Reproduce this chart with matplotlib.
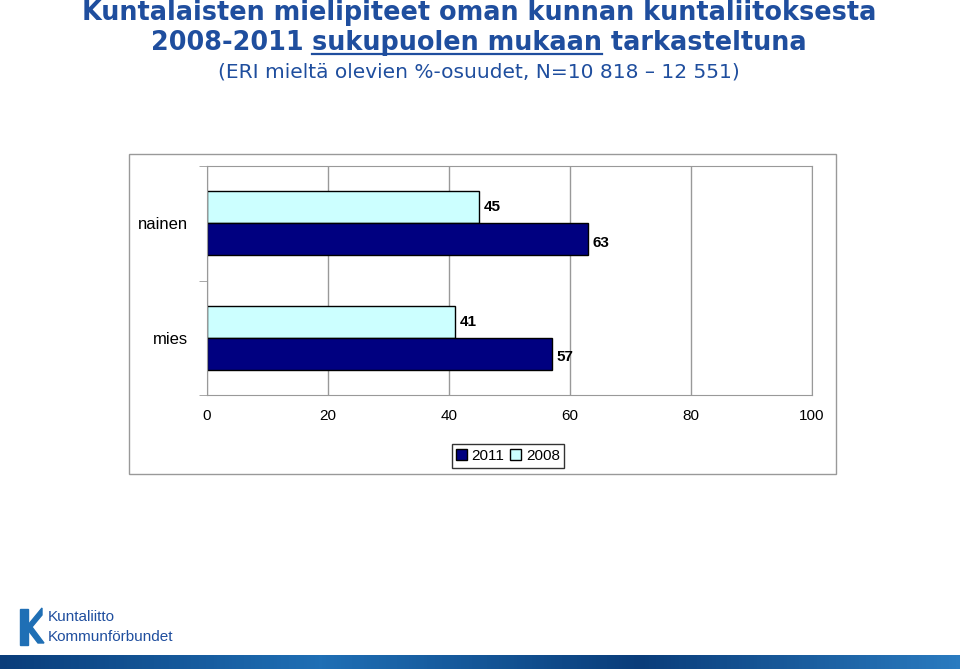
import matplotlib
matplotlib.use("Agg")
import matplotlib.pyplot as plt
from matplotlib.patches import Rectangle
from matplotlib.colors import LinearSegmentedColormap
import numpy as np

categories = ["mies", "nainen"]
v2011 = [57, 63]
v2008 = [41, 45]
xticks = [0, 20, 40, 60, 80, 100]

plt.rcParams['font.family'] = ['Liberation Sans', 'DejaVu Sans']
fig = plt.figure(figsize=(9.6, 6.69), dpi=100)
W, H = 960, 669
def fx(x): return x / W
def fy(y): return 1 - y / H

tc = "#1F4E9E"
tf = "DejaVu Sans"
fig.text(fx(479), fy(13), "Kuntalaisten mielipiteet oman kunnan kuntaliitoksesta", color=tc,
         fontsize=18.4, fontweight="bold", va="center", ha="center", family=tf)
# line 2 in three parts, with underline for the middle one
parts = ["2008-2011 ", "sukupuolen mukaan", " tarkasteltuna"]
renderer = fig.canvas.get_renderer()
widths = []
for p in parts:
    t = fig.text(0, 0, p.replace(" ", "\u00a0"), fontsize=18.4, fontweight="bold", family=tf)
    widths.append(t.get_window_extent(renderer).width)
    t.remove()
x = 479 - sum(widths) / 2
for p, w in zip(parts, widths):
    fig.text(fx(x), fy(43), p.replace(" ", "\u00a0"), color=tc, fontsize=18.4, fontweight="bold",
             va="center", ha="left", family=tf)
    if p.startswith("suku"):
        fig.add_artist(plt.Line2D([fx(x), fx(x + w)], [fy(54), fy(54)], color=tc, lw=1.6))
    x += w
fig.text(fx(479), fy(72), "(ERI mieltä olevien %-osuudet, N=10 818 – 12 551)", color=tc,
         fontsize=14.5, va="center", ha="center", family=tf)

fig.add_artist(Rectangle((fx(129), fy(474)), fx(836 - 129), (474 - 154) / H,
                         fill=False, ec="#999999", lw=1))

ax = fig.add_axes([fx(207), fy(395), fx(812 - 207), (395 - 166) / H])
y = np.arange(len(categories))
h = 0.28
ax.barh(y + h / 2, v2008, height=h, color="#CCFFFF", edgecolor="black", lw=1, label="2008")
ax.barh(y - h / 2, v2011, height=h, color="#000080", edgecolor="black", lw=1, label="2011")
for yi, a, b in zip(y, v2008, v2011):
    ax.text(a + 0.8, yi + h / 2, str(a), va="center", ha="left", fontsize=11, fontweight="bold")
    ax.text(b + 0.8, yi - h / 2 - 0.03, str(b), va="center", ha="left", fontsize=11, fontweight="bold")
ax.set_xlim(0, 100)
ax.set_ylim(-0.5, 1.5)
ax.set_xticks(xticks)
ax.set_xticklabels([str(t) for t in xticks], fontsize=11)
ax.set_yticks(y)
ax.set_yticklabels(categories, fontsize=12)
ax.set_yticks([-0.5, 0.5, 1.5], minor=True)
ax.tick_params(axis="y", which="major", length=0, pad=14)
ax.tick_params(axis="y", which="minor", length=6, color="#999999")
ax.tick_params(axis="x", length=0, pad=10)
ax.grid(axis="x", color="#999999", lw=1)
ax.set_axisbelow(True)
for s in ax.spines.values():
    s.set_color("#999999")
handles, labels = ax.get_legend_handles_labels()
fig.legend(handles[::-1], labels[::-1], loc="center", bbox_to_anchor=(fx(508), fy(456)),
           ncol=2, fontsize=11, frameon=True, fancybox=False, edgecolor="black",
           handlelength=0.7, handleheight=0.7, handletextpad=0.3, columnspacing=0.4,
           borderpad=0.3)

fig.text(fx(48), fy(617), "Kuntaliitto", fontsize=11, color="#1F4E9E", va="center", ha="left")
fig.text(fx(48), fy(637), "Kommunförbundet", fontsize=11, color="#1F4E9E", va="center", ha="left")
fig.add_artist(Rectangle((fx(20), fy(645)), fx(8), 36 / H, color="#1F6FB5"))
fig.add_artist(plt.Polygon([(fx(28), fy(625)), (fx(42), fy(608)), (fx(42), fy(615)), (fx(32), fy(627)),
                            (fx(44), fy(643)), (fx(38), fy(643)), (fx(28), fy(630))],
                           color="#1F6FB5"))
grad = np.linspace(0, 1, 256).reshape(1, -1)
sax = fig.add_axes([0, 0, 1, 14 / H])
cm = LinearSegmentedColormap.from_list("s", ["#0A3D7A", "#1F6FB5", "#0A3D7A", "#2A7BC0"])
sax.imshow(grad, aspect="auto", cmap=cm)
sax.axis("off")

fig.savefig("out.png", dpi=100)
